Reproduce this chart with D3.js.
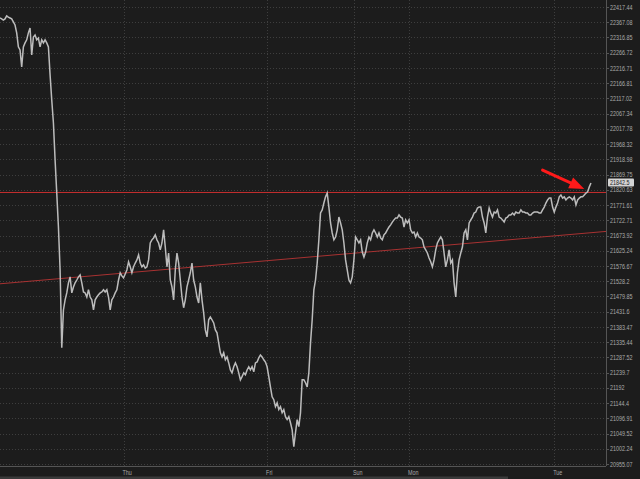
<!DOCTYPE html>
<html>
<head>
<meta charset="utf-8">
<script src="https://cdn.jsdelivr.net/npm/d3@7"></script>
<style>
	html, body { margin: 0; padding: 0; background: #1c1c1c; }
	svg { display: block; }
</style>
</head>
<body>
<div id="chart"></div>
<script>
// price axis ticks (log spaced)
const yTicks = [22417.44, 22367.08, 22316.85, 22266.72, 22216.71, 22166.81, 22117.02, 22067.34,
	22017.78, 21968.32, 21918.98, 21869.75, 21820.63, 21771.61, 21722.71, 21673.92, 21625.24,
	21576.67, 21528.2, 21479.85, 21431.6, 21383.47, 21335.44, 21287.52, 21239.7, 21192, 21144.4,
	21096.91, 21049.52, 21002.24, 20955.07];

// day labels and the bar they sit on
const dayLabels = ['Thu', 'Fri', 'Sun', 'Mon', 'Tue'];
const dayBars = [74, 160, 212, 245, 332];

// close per bar
const closes = [
	22381, 22378, 22374, 22378, 22388, 22384, 22381, 22378, 22368, 22358,
	22332, 22286, 22276, 22220, 22286, 22299, 22309, 22332, 22348, 22259,
	22318, 22325, 22309, 22315, 22286, 22309, 22299, 22309, 22299, 22286,
	22194, 22112, 22037, 21917, 21810, 21701, 21564, 21318, 21437, 21469,
	21491, 21523, 21542, 21491, 21510, 21523, 21532, 21542, 21548, 21523,
	21494, 21491, 21478, 21501, 21478, 21469, 21437, 21469, 21478, 21485,
	21491, 21494, 21501, 21494, 21501, 21478, 21437, 21469, 21478, 21491,
	21501, 21532, 21555, 21545, 21539, 21551, 21564, 21590, 21574, 21555,
	21574, 21586, 21596, 21612, 21586, 21574, 21580, 21570, 21574, 21596,
	21650, 21660, 21666, 21676, 21660, 21650, 21628, 21650, 21692, 21637,
	21574, 21618, 21532, 21510, 21469, 21564, 21618, 21586, 21532, 21478,
	21444, 21469, 21510, 21532, 21555, 21586, 21532, 21510, 21478, 21459,
	21523, 21469, 21428, 21374, 21352, 21406, 21415, 21406, 21396, 21374,
	21365, 21333, 21302, 21289, 21302, 21280, 21289, 21270, 21248, 21239,
	21258, 21270, 21258, 21239, 21217, 21227, 21239, 21233, 21248, 21258,
	21248, 21258, 21242, 21270, 21273, 21286, 21295, 21289, 21280, 21273,
	21258, 21227, 21195, 21164, 21155, 21133, 21145, 21124, 21133, 21114,
	21124, 21102, 21093, 21102, 21083, 21061, 21009, 21052, 21093, 21071,
	21114, 21217, 21217, 21208, 21195, 21239, 21333, 21406, 21501, 21532,
	21586, 21660, 21746, 21756, 21778, 21798, 21810, 21765, 21714, 21682,
	21660, 21669, 21692, 21733, 21714, 21692, 21650, 21596, 21564, 21532,
	21523, 21542, 21596, 21669, 21660, 21650, 21660, 21621, 21605, 21621,
	21650, 21669, 21660, 21682, 21692, 21682, 21669, 21682, 21666, 21660,
	21676, 21682, 21692, 21701, 21708, 21717, 21724, 21730, 21730, 21740,
	21733, 21730, 21701, 21724, 21714, 21724, 21692, 21682, 21685, 21669,
	21682, 21669, 21666, 21660, 21637, 21628, 21618, 21602, 21590, 21574,
	21596, 21628, 21650, 21660, 21669, 21660, 21618, 21574, 21596, 21628,
	21586, 21596, 21523, 21478, 21555, 21596, 21618, 21637, 21682, 21692,
	21660, 21714, 21724, 21733, 21746, 21749, 21762, 21765, 21765, 21733,
	21714, 21682, 21733, 21762, 21746, 21733, 21749, 21746, 21756, 21733,
	21730, 21724, 21717, 21730, 21733, 21740, 21740, 21746, 21740, 21749,
	21746, 21746, 21756, 21749, 21749, 21746, 21746, 21740, 21740, 21746,
	21749, 21749, 21749, 21746, 21746, 21756, 21765, 21778, 21788, 21794,
	21794, 21765, 21749, 21765, 21778, 21798, 21804, 21794, 21798, 21788,
	21794, 21798, 21794, 21788, 21798, 21772, 21788, 21794, 21798, 21798,
	21804, 21810, 21814, 21830, 21842.5
];

const lastPrice = 21842.5;
const resistance = 21812;
const trendBars = [0, 363];
const trendValues = [21520, 21687];
const arrowBars = [325, 350];
const arrowValues = [21884, 21823];

let width = 640,
		height = 479,
		plotRight = 606,
		bg = '#1c1c1c',
		grid = '#3e3e3e',
		axisGrey = '#555',
		labelGrey = '#aaa',
		font = '"Liberation Sans", Arial, sans-serif';

let svg = d3.select('#chart').append('svg')
		.attr('width', width)
		.attr('height', height);

svg.append('rect')
		.attr('width', width)
		.attr('height', height)
		.attr('fill', bg);

let x = d3.scaleLinear().domain([0, 363]).range([0, plotRight]);
let y = d3.scaleLog().domain([20955.07, 22417.44]).range([464, 7]);

// horizontal dotted grid
svg.append('g').selectAll('line')
		.data(yTicks)
		.enter()
		.append('line')
		.attr('x1', 0)
		.attr('x2', plotRight)
		.attr('y1', d => Math.round(y(d)) + .5)
		.attr('y2', d => Math.round(y(d)) + .5)
		.attr('stroke', grid)
		.attr('stroke-dasharray', '1,2');

// vertical dotted grid at day starts
svg.append('g').selectAll('line')
		.data(dayBars)
		.enter()
		.append('line')
		.attr('x1', d => Math.round(x(d)) + .5)
		.attr('x2', d => Math.round(x(d)) + .5)
		.attr('y1', 0)
		.attr('y2', 466)
		.attr('stroke', grid)
		.attr('stroke-dasharray', '1,2');

// axis lines
svg.append('line')
		.attr('x1', plotRight + .5).attr('x2', plotRight + .5)
		.attr('y1', 0).attr('y2', 466)
		.attr('stroke', axisGrey);
svg.append('line')
		.attr('x1', 0).attr('x2', plotRight)
		.attr('y1', 466.5).attr('y2', 466.5)
		.attr('stroke', axisGrey);

// price labels
let yAxis = svg.append('g');
yAxis.selectAll('line')
		.data(yTicks)
		.enter()
		.append('line')
		.attr('x1', plotRight)
		.attr('x2', plotRight + 3)
		.attr('y1', d => Math.round(y(d)) + .5)
		.attr('y2', d => Math.round(y(d)) + .5)
		.attr('stroke', axisGrey);
yAxis.selectAll('text')
		.data(yTicks)
		.enter()
		.append('text')
		.attr('transform', d => `translate(${plotRight + 4}, ${y(d) + 2.6}) scale(0.72, 1)`)
		.attr('fill', labelGrey)
		.style('font-family', font)
		.style('font-size', '7.5px')
		.text(d => d);

// day labels
svg.append('g').selectAll('text')
		.data(dayLabels)
		.enter()
		.append('text')
		.attr('transform', (d, i) => `translate(${x(dayBars[i]) - 1}, 474.5) scale(0.72, 1)`)
		.attr('fill', labelGrey)
		.style('font-family', font)
		.style('font-size', '7.5px')
		.text(d => d);

// scrollbar strip
svg.append('rect')
		.attr('x', 0).attr('y', 476.5)
		.attr('width', 508).attr('height', 3)
		.attr('fill', '#3a3a3a');

// trend line
svg.append('line')
		.attr('x1', x(trendBars[0])).attr('y1', y(trendValues[0]))
		.attr('x2', x(trendBars[1])).attr('y2', y(trendValues[1]))
		.attr('stroke', '#a83232')
		.attr('stroke-width', 1);

// resistance level
svg.append('line')
		.attr('x1', 0).attr('x2', plotRight)
		.attr('y1', y(resistance)).attr('y2', y(resistance))
		.attr('stroke', '#c62f2f')
		.attr('stroke-width', 1);

// price line
let line = d3.line()
		.x((d, i) => x(i))
		.y(d => y(d));

svg.append('path')
		.datum(closes)
		.attr('d', line)
		.attr('fill', 'none')
		.attr('stroke', '#bcbcbc')
		.attr('stroke-width', 1.5)
		.attr('stroke-linejoin', 'miter');

// arrow annotation
let ax1 = x(arrowBars[0]), ay1 = y(arrowValues[0]),
		ax2 = x(arrowBars[1]), ay2 = y(arrowValues[1]);
let ang = Math.atan2(ay2 - ay1, ax2 - ax1),
		headLen = 15, headW = 6;
let bx = ax2 - headLen * Math.cos(ang), by = ay2 - headLen * Math.sin(ang);
svg.append('line')
		.attr('x1', ax1).attr('y1', ay1)
		.attr('x2', bx).attr('y2', by)
		.attr('stroke', '#ff1a1a')
		.attr('stroke-width', 3)
		.attr('stroke-linecap', 'round');
svg.append('path')
		.attr('d', `M ${ax2} ${ay2} L ${bx + headW * Math.sin(ang)} ${by - headW * Math.cos(ang)} L ${bx - headW * Math.sin(ang)} ${by + headW * Math.cos(ang)} Z`)
		.attr('fill', '#ff1a1a');

// last price tag
let tagY = y(lastPrice);
svg.append('rect')
		.attr('x', plotRight + 2).attr('y', tagY - 4.5)
		.attr('width', 26).attr('height', 8)
		.attr('rx', 1)
		.attr('fill', '#d4d4d4');
svg.append('text')
		.attr('transform', `translate(${plotRight + 4}, ${tagY + 2.2}) scale(0.72, 1)`)
		.attr('fill', '#222')
		.style('font-family', font)
		.style('font-size', '7.5px')
		.text(lastPrice);
</script>
</body>
</html>
